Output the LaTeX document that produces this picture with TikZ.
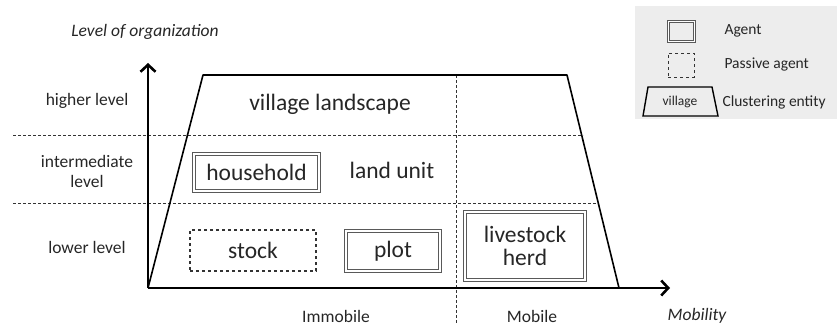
\documentclass[tikz,border=0pt]{standalone}
\usepackage{fontspec}
\setmainfont{Carlito}
\usetikzlibrary{arrows.meta}

\tikzset{
  agent/.style={draw=black!65, double=white, double distance=1.6pt, line width=0.8pt,
                inner sep=0pt, font=\fontsize{23.5}{26}\selectfont, text=black!85},
  passive/.style={draw=black!80, dashed, line width=1.1pt, inner sep=0pt,
                  font=\fontsize{23.5}{26}\selectfont, text=black!85},
  bigtxt/.style={font=\fontsize{23.5}{26}\selectfont, text=black!85},
  lbltxt/.style={font=\fontsize{17.5}{20}\selectfont, text=black!85, align=center},
  legtxt/.style={font=\fontsize{15.5}{18}\selectfont, text=black!85, anchor=west},
  axis/.style={line width=2.6pt, -{Straight Barb[length=7pt,width=15pt,line width=2.6pt]}},
  grid/.style={dash pattern=on 3pt off 2pt, line width=0.8pt, black!80}
}

\begin{document}
\begin{tikzpicture}[x=1pt,y=-1pt]
    \useasboundingbox (0,0) rectangle (837,329);

    % Legend
    \fill[black!7] (635,6) rectangle (837,119);
    \node[agent, line width=1pt, double distance=1.8pt, minimum width=26pt, minimum height=20pt] (legagent) at (681.5,31.5) {};
    \node[legtxt] (legagenttxt) at (721,31) {Agent};
    \node[passive, line width=0.9pt, minimum width=26pt, minimum height=24pt] (legpassive) at (681,65) {};
    \node[legtxt] (legpassivetxt) at (721,64) {Passive agent};
    \draw[line width=1.4pt] (643,116) -- (648,87) -- (712,87) -- (718,116) -- cycle;
    \node[font=\fontsize{13.5}{15}\selectfont, text=black!85] (legvillage) at (680,102) {village};
    \node[legtxt] (legcluster) at (719,102) {Clustering entity};

    % Level lines
    \draw[grid] (13,135) -- (583,135);
    \draw[grid] (13,203) -- (597,203);
    \draw[grid] (456,75) -- (456,323);

    % Clustering entity
    \draw[line width=1.6pt, line join=round] (148,288) -- (203,75) -- (567,75) -- (619,288);

    % Axes
    \coordinate (origin) at (148,288);
    \coordinate (ytip) at (148,63);
    \coordinate (xtip) at (670,288);
    \draw[axis] (origin) -- (ytip);
    \draw[axis] (origin) -- (xtip);

    % Axis labels
    \node[lbltxt, font=\fontsize{17.5}{20}\itshape] (ylabel) at (145,32) {Level of organization};
    \node[lbltxt, font=\fontsize{17.5}{20}\itshape] (xlabel) at (697,316) {Mobility};
    \node[lbltxt] (higher) at (87,101) {higher level};
    \node[lbltxt] (inter) at (87,171) {intermediate\\level};
    \node[lbltxt] (lower) at (87,247) {lower level};
    \node[lbltxt] (immobile) at (336,316) {Immobile};
    \node[lbltxt] (mobile) at (532,316) {Mobile};

    % Entities
    \node[bigtxt] (landscape) at (330,104) {village landscape};
    \node[agent, minimum width=125pt, minimum height=37pt] (household) at (256.5,172.5) {household};
    \node[bigtxt] (landunit) at (392,170) {land unit};
    \node[passive, minimum width=126pt, minimum height=41pt] (stock) at (253,250.5) {stock};
    \node[agent, minimum width=94pt, minimum height=40pt] (plot) at (393,251) {plot};
    \node[agent, minimum width=120pt, minimum height=68pt, align=center] (herd) at (525,246) {livestock\\[-3pt]herd};

\end{tikzpicture}
\end{document}
